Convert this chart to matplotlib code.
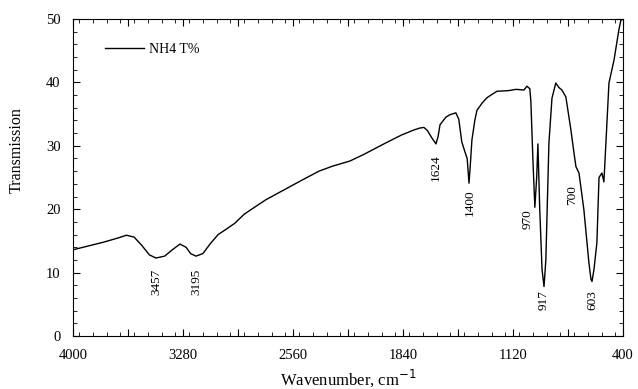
import matplotlib.pyplot as plt
from matplotlib.ticker import FixedLocator, MultipleLocator

# --- data ---
wavenumber = [4000, 3900, 3800, 3700, 3650, 3600, 3550, 3500, 3457, 3400, 3350, 3300,
              3260, 3230, 3195, 3150, 3100, 3050, 3000, 2940, 2880, 2800, 2737, 2630,
              2500, 2390, 2300, 2187, 2100, 1965, 1850, 1768, 1730, 1703, 1680, 1650,
              1624, 1610, 1598, 1560, 1533, 1494, 1475, 1455, 1434, 1420, 1408, 1398,
              1389, 1370, 1356, 1320, 1290, 1225, 1150, 1100, 1048, 1029, 1010, 1003,
              990, 977, 965, 957, 945, 930, 917, 905, 885, 865, 840, 820, 800, 774,
              741, 721, 708, 688, 656, 623, 610, 603, 590, 571, 557, 538, 525, 512,
              492, 459, 427, 414, 400]
transmission = [13.6, 14.2, 14.8, 15.5, 15.9, 15.6, 14.3, 12.8, 12.3, 12.6, 13.6, 14.5,
                14.0, 13.0, 12.6, 13.0, 14.6, 16.0, 16.8, 17.8, 19.2, 20.5, 21.5, 22.9,
                24.6, 26.0, 26.8, 27.6, 28.6, 30.3, 31.7, 32.5, 32.8, 32.9, 32.4, 31.2,
                30.3, 31.5, 33.3, 34.5, 34.9, 35.2, 34.2, 30.6, 29.0, 28.0, 24.1, 27.5,
                30.9, 34.0, 35.6, 36.8, 37.6, 38.6, 38.7, 38.9, 38.8, 39.4, 39.0, 37.0,
                28.0, 20.3, 25.0, 30.3, 20.0, 10.5, 7.8, 12.0, 30.4, 37.5, 39.9, 39.2,
                38.8, 37.7, 32.5, 28.9, 26.7, 25.7, 19.9, 11.5, 9.0, 8.6, 10.5, 14.7,
                25.0, 25.7, 24.3, 30.4, 39.9, 43.5, 48.3, 49.8, 50.0]

# labelled x ticks and the extra (unlabelled) major marks between them
x_ticks = [4000, 3280, 2560, 1840, 1120, 400]
x_mid_ticks = [3640, 2920, 2200, 1480, 760]

# peak annotations: label, x (wavenumber), y (transmission, centre of text)
peak_labels = ["3457", "3195", "1624", "1400", "970", "917", "700", "603"]
peak_x = [3457, 3195, 1624, 1400, 1025, 917, 730, 603]
peak_y = [8.5, 8.5, 26.5, 21.0, 18.5, 5.7, 22.3, 5.7]

plt.rcParams['font.family'] = ['Liberation Serif', 'DejaVu Serif']

fig = plt.figure(figsize=(6.38, 3.89), dpi=100)
ax = fig.add_axes([0.1144, 0.1362, 0.8621, 0.8150])

ax.plot(wavenumber, transmission, color='black', linewidth=1.0, label='NH4 T%')

for lab, px, py in zip(peak_labels, peak_x, peak_y):
    ax.text(px, py, lab, rotation=90, ha='center', va='center', fontsize=9.5)

ax.set_xlim(4000, 400)
ax.set_ylim(0, 50)
ax.xaxis.set_major_locator(FixedLocator(x_ticks))
ax.set_xticklabels([str(t) for t in x_ticks])
ax.xaxis.set_minor_locator(MultipleLocator(90))
ax.yaxis.set_major_locator(MultipleLocator(10))
ax.yaxis.set_minor_locator(MultipleLocator(2))
ax.tick_params(which='both', direction='in', top=True, right=True, labelsize=10.5)
ax.tick_params(which='major', length=5)
ax.tick_params(which='minor', length=3)
ax.tick_params(axis='x', which='major', pad=9)
ax.tick_params(axis='y', which='major', pad=9)

# the in-between major marks, drawn as a secondary set of ticks without labels
sec = ax.secondary_xaxis('bottom')
sec.set_xticks(x_mid_ticks)
sec.set_xticklabels([])
sec.tick_params(direction='in', length=5)
sec.spines['bottom'].set_visible(False)
sec_top = ax.secondary_xaxis('top')
sec_top.set_xticks(x_mid_ticks)
sec_top.set_xticklabels([])
sec_top.tick_params(direction='in', length=5)
sec_top.spines['top'].set_visible(False)

ax.set_xlabel(r"Wavenumber, cm$^{-1}$", fontsize=12, labelpad=4)
ax.set_ylabel("Transmission", fontsize=11.5)
ax.yaxis.set_label_coords(-0.087, 0.585)

ax.legend(loc='upper left', frameon=False, fontsize=10, handlelength=2.8,
          handletextpad=0.4, bbox_to_anchor=(0.035, 0.965))

fig.savefig("out.png", dpi=100)
